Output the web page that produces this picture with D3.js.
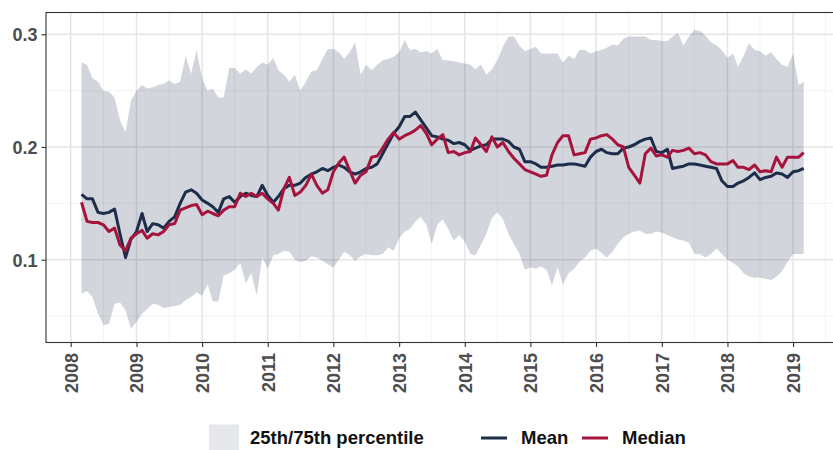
<!DOCTYPE html>
<html>
<head>
<meta charset="utf-8">
<script src="https://cdn.jsdelivr.net/npm/d3@7"></script>
<style>
  body { margin: 0; background: #fff; }
  svg { display: block; }
</style>
</head>
<body>
<div id="chart"></div>
<script>
// Monthly series, March 2008 to March 2019
const START = new Date(2008, 2, 1);

const MEAN = [
  0.158, 0.154, 0.154, 0.142, 0.141, 0.142, 0.145, 0.123, 0.102, 0.118, 0.125, 0.141, 0.125, 0.132, 0.131, 0.128, 0.134, 0.138, 0.150,
  0.160, 0.162, 0.159, 0.153, 0.150, 0.147, 0.142, 0.154, 0.156, 0.151, 0.156, 0.159, 0.157, 0.156, 0.166, 0.157, 0.151, 0.156,
  0.163, 0.166, 0.166, 0.168, 0.173, 0.176, 0.178, 0.181, 0.179, 0.182, 0.184, 0.182, 0.178, 0.176, 0.178, 0.181, 0.182, 0.185, 0.194,
  0.203, 0.212, 0.218, 0.227, 0.227, 0.231, 0.224, 0.217, 0.210, 0.209, 0.207, 0.206, 0.203, 0.204, 0.202, 0.197, 0.199, 0.201, 0.202,
  0.207, 0.207, 0.207, 0.205, 0.200, 0.198, 0.187, 0.187, 0.185, 0.182, 0.182, 0.183, 0.184, 0.184, 0.185, 0.185, 0.184, 0.183, 0.191,
  0.196, 0.198, 0.195, 0.194, 0.194, 0.199, 0.200, 0.202, 0.205, 0.207, 0.208, 0.196, 0.195, 0.198, 0.181, 0.182, 0.183, 0.185, 0.185,
  0.184, 0.183, 0.182, 0.181, 0.170, 0.165, 0.165, 0.168, 0.170, 0.173, 0.177, 0.171, 0.173, 0.174, 0.177, 0.176, 0.173, 0.178, 0.179, 0.181
];

const MEDIAN = [
  0.151, 0.134, 0.133, 0.133, 0.131, 0.125, 0.128, 0.113, 0.108, 0.119, 0.123, 0.126, 0.119, 0.123, 0.122, 0.125, 0.131, 0.132, 0.144,
  0.146, 0.148, 0.149, 0.140, 0.143, 0.141, 0.139, 0.144, 0.147, 0.147, 0.159, 0.156, 0.159, 0.156, 0.159, 0.154, 0.150, 0.144,
  0.163, 0.173, 0.157, 0.160, 0.166, 0.176, 0.166, 0.159, 0.162, 0.178, 0.186, 0.191, 0.179, 0.168, 0.175, 0.178, 0.191, 0.192, 0.199,
  0.207, 0.213, 0.207, 0.210, 0.212, 0.215, 0.219, 0.212, 0.202, 0.207, 0.211, 0.195, 0.196, 0.193, 0.195, 0.196, 0.208, 0.202, 0.196,
  0.209, 0.200, 0.204, 0.196, 0.190, 0.185, 0.180, 0.178, 0.176, 0.174, 0.175, 0.193, 0.204, 0.210, 0.210, 0.193, 0.194, 0.195, 0.207,
  0.208, 0.210, 0.211, 0.207, 0.202, 0.200, 0.182, 0.175, 0.168, 0.194, 0.199, 0.192, 0.193, 0.191, 0.197, 0.196, 0.197, 0.199, 0.194,
  0.195, 0.193, 0.187, 0.185, 0.185, 0.185, 0.188, 0.182, 0.182, 0.180, 0.184, 0.178, 0.179, 0.178, 0.191, 0.182, 0.191, 0.191, 0.191, 0.195
];

const P75 = [
  0.275, 0.273, 0.261, 0.258, 0.250, 0.249, 0.244, 0.224, 0.213, 0.241, 0.250, 0.255, 0.252, 0.253, 0.255, 0.256, 0.259, 0.256, 0.258,
  0.281, 0.265, 0.286, 0.261, 0.250, 0.252, 0.244, 0.244, 0.270, 0.270, 0.265, 0.269, 0.265, 0.271, 0.275, 0.273, 0.279, 0.268,
  0.264, 0.258, 0.264, 0.250, 0.258, 0.267, 0.268, 0.278, 0.287, 0.287, 0.284, 0.278, 0.284, 0.293, 0.264, 0.273, 0.268, 0.273, 0.277,
  0.278, 0.280, 0.284, 0.295, 0.286, 0.287, 0.284, 0.285, 0.283, 0.287, 0.277, 0.277, 0.276, 0.275, 0.274, 0.273, 0.269, 0.273, 0.264,
  0.269, 0.277, 0.289, 0.298, 0.298, 0.290, 0.285, 0.287, 0.289, 0.283, 0.283, 0.283, 0.283, 0.275, 0.281, 0.278, 0.286, 0.286, 0.283,
  0.285, 0.286, 0.288, 0.291, 0.290, 0.296, 0.298, 0.298, 0.298, 0.298, 0.295, 0.295, 0.294, 0.294, 0.298, 0.301, 0.290, 0.298, 0.304,
  0.303, 0.299, 0.293, 0.290, 0.286, 0.279, 0.283, 0.271, 0.281, 0.292, 0.286, 0.285, 0.281, 0.284, 0.278, 0.273, 0.271, 0.283, 0.255, 0.258
];

const P25 = [
  0.070, 0.072, 0.067, 0.052, 0.042, 0.043, 0.061, 0.062, 0.055, 0.039, 0.045, 0.052, 0.056, 0.061, 0.060, 0.057, 0.058, 0.059, 0.060,
  0.064, 0.067, 0.071, 0.068, 0.078, 0.063, 0.063, 0.086, 0.088, 0.091, 0.097, 0.079, 0.088, 0.068, 0.102, 0.092, 0.104, 0.105,
  0.108, 0.107, 0.100, 0.098, 0.099, 0.103, 0.102, 0.099, 0.096, 0.093, 0.100, 0.107, 0.104, 0.099, 0.103, 0.105, 0.104, 0.104, 0.105,
  0.111, 0.108, 0.119, 0.125, 0.127, 0.134, 0.138, 0.131, 0.114, 0.131, 0.136, 0.127, 0.117, 0.122, 0.116, 0.105, 0.104, 0.113, 0.123,
  0.137, 0.142, 0.136, 0.123, 0.114, 0.105, 0.091, 0.093, 0.092, 0.094, 0.091, 0.077, 0.093, 0.078, 0.088, 0.092, 0.098, 0.102, 0.108,
  0.110, 0.106, 0.102, 0.107, 0.114, 0.120, 0.123, 0.125, 0.126, 0.123, 0.123, 0.125, 0.124, 0.122, 0.120, 0.118, 0.117, 0.115, 0.105,
  0.105, 0.102, 0.105, 0.110, 0.105, 0.100, 0.097, 0.094, 0.088, 0.085, 0.084, 0.084, 0.083, 0.082, 0.085, 0.090, 0.098, 0.105, 0.105, 0.105
];

const YEARS = d3.range(2008, 2020);
const Y_TICKS = [0.1, 0.2, 0.3];
const Y_MINOR = [0.05, 0.15, 0.25];

const COLORS = {
  mean: "#1c2d4a",
  median: "#a6133d",
  band: "#1d2f4a",
  bandKey: "#e6e7eb",
  text: "#4d4d4d"
};

const W = 833, H = 450;
const panel = { left: 46, top: 12.5, bottom: 342.5, right: 838 };
const FONT = "'Liberation Sans', Arial, sans-serif";

const months = d3.timeMonth.range(START, d3.timeMonth.offset(START, MEAN.length));
const rows = months.map((d, i) => ({
  date: d, mean: MEAN[i], median: MEDIAN[i], lo: P25[i], hi: P75[i]
}));

const x = d3.scaleTime()
  .domain([new Date(2008, 0, 1), new Date(2019, 0, 1)])
  .range([70.7, 70.7 + 11 * 65.67]);

const y = d3.scaleLinear()
  .domain([0.1, 0.3])
  .range([259.7, 34.3]);

const svg = d3.select("#chart").append("svg")
  .attr("width", W)
  .attr("height", H)
  .style("font-family", FONT);

svg.append("defs").append("clipPath").attr("id", "clip")
  .append("rect")
  .attr("x", panel.left).attr("y", panel.top)
  .attr("width", panel.right - panel.left).attr("height", panel.bottom - panel.top);

const plot = svg.append("g").attr("clip-path", "url(#clip)");

// grid
const halfYears = d3.range(2007, 2020).map(yr => new Date(yr, 6, 1));
plot.append("g").selectAll("line")
  .data(halfYears)
  .join("line")
    .attr("x1", d => x(d)).attr("x2", d => x(d))
    .attr("y1", panel.top).attr("y2", panel.bottom)
    .attr("stroke", "#f0f0f0").attr("stroke-width", 0.9);

plot.append("g").selectAll("line")
  .data(Y_MINOR)
  .join("line")
    .attr("x1", panel.left).attr("x2", panel.right)
    .attr("y1", d => y(d)).attr("y2", d => y(d))
    .attr("stroke", "#f0f0f0").attr("stroke-width", 0.9);

plot.append("g").selectAll("line")
  .data(YEARS.map(yr => new Date(yr, 0, 1)))
  .join("line")
    .attr("x1", d => x(d)).attr("x2", d => x(d))
    .attr("y1", panel.top).attr("y2", panel.bottom)
    .attr("stroke", "#e5e5e5").attr("stroke-width", 1.5);

plot.append("g").selectAll("line")
  .data(Y_TICKS)
  .join("line")
    .attr("x1", panel.left).attr("x2", panel.right)
    .attr("y1", d => y(d)).attr("y2", d => y(d))
    .attr("stroke", "#e5e5e5").attr("stroke-width", 1.5);

// percentile band
plot.append("path")
  .datum(rows)
  .attr("fill", COLORS.band)
  .attr("fill-opacity", 0.2)
  .attr("d", d3.area().x(d => x(d.date)).y0(d => y(d.lo)).y1(d => y(d.hi)));

// lines
const line = key => d3.line().x(d => x(d.date)).y(d => y(d[key]));

plot.append("path")
  .datum(rows)
  .attr("fill", "none")
  .attr("stroke", COLORS.mean)
  .attr("stroke-width", 3)
  .attr("stroke-linejoin", "round")
  .attr("d", line("mean"));

plot.append("path")
  .datum(rows)
  .attr("fill", "none")
  .attr("stroke", COLORS.median)
  .attr("stroke-width", 3)
  .attr("stroke-linejoin", "round")
  .attr("d", line("median"));

// panel border
svg.append("rect")
  .attr("x", panel.left).attr("y", panel.top)
  .attr("width", panel.right - panel.left).attr("height", panel.bottom - panel.top)
  .attr("fill", "none")
  .attr("stroke", "#333")
  .attr("stroke-width", 1.1);

// axes
const yAxis = svg.append("g")
  .attr("transform", `translate(${panel.left},0)`)
  .call(d3.axisLeft(y).tickValues(Y_TICKS).tickFormat(d3.format(".1f")).tickSize(4.5).tickPadding(4));
yAxis.select(".domain").remove();
yAxis.selectAll(".tick line").attr("stroke", "#333").attr("stroke-width", 1.1);
yAxis.selectAll(".tick text")
  .attr("fill", COLORS.text)
  .attr("font-family", FONT)
  .attr("font-size", 18)
  .attr("font-weight", "bold")
  .attr("dy", "0.35em");

const xAxis = svg.append("g")
  .attr("transform", `translate(0,${panel.bottom})`)
  .call(d3.axisBottom(x).tickValues(YEARS.map(yr => new Date(yr, 0, 1))).tickFormat(d3.timeFormat("%Y")).tickSize(4.5));
xAxis.select(".domain").remove();
xAxis.selectAll(".tick line").attr("stroke", "#333").attr("stroke-width", 1.1);
xAxis.selectAll(".tick text")
  .attr("fill", COLORS.text)
  .attr("font-family", FONT)
  .attr("font-size", 18)
  .attr("font-weight", "bold")
  .attr("text-anchor", "end")
  .attr("y", 0)
  .attr("dy", "0.35em")
  .attr("transform", "translate(0,10.5) rotate(-90)");

// legend (nudged up slightly so the descenders stay inside the frame)
const legend = svg.append("g").attr("font-family", FONT).attr("font-size", 18.5).attr("font-weight", "bold");

legend.append("rect")
  .attr("x", 209).attr("y", 424.5).attr("width", 30).attr("height", 30)
  .attr("fill", COLORS.bandKey);
legend.append("text").attr("x", 250).attr("y", 444).attr("fill", "#111").text("25th/75th percentile");

const LEGEND_LINES = [
  { label: "Mean", color: COLORS.mean, x: 481 },
  { label: "Median", color: COLORS.median, x: 582 }
];
LEGEND_LINES.forEach(d => {
  legend.append("line")
    .attr("x1", d.x).attr("x2", d.x + 26)
    .attr("y1", 438).attr("y2", 438)
    .attr("stroke", d.color).attr("stroke-width", 3);
  legend.append("text").attr("x", d.x + 40).attr("y", 444).attr("fill", "#111").text(d.label);
});
</script>
</body>
</html>
